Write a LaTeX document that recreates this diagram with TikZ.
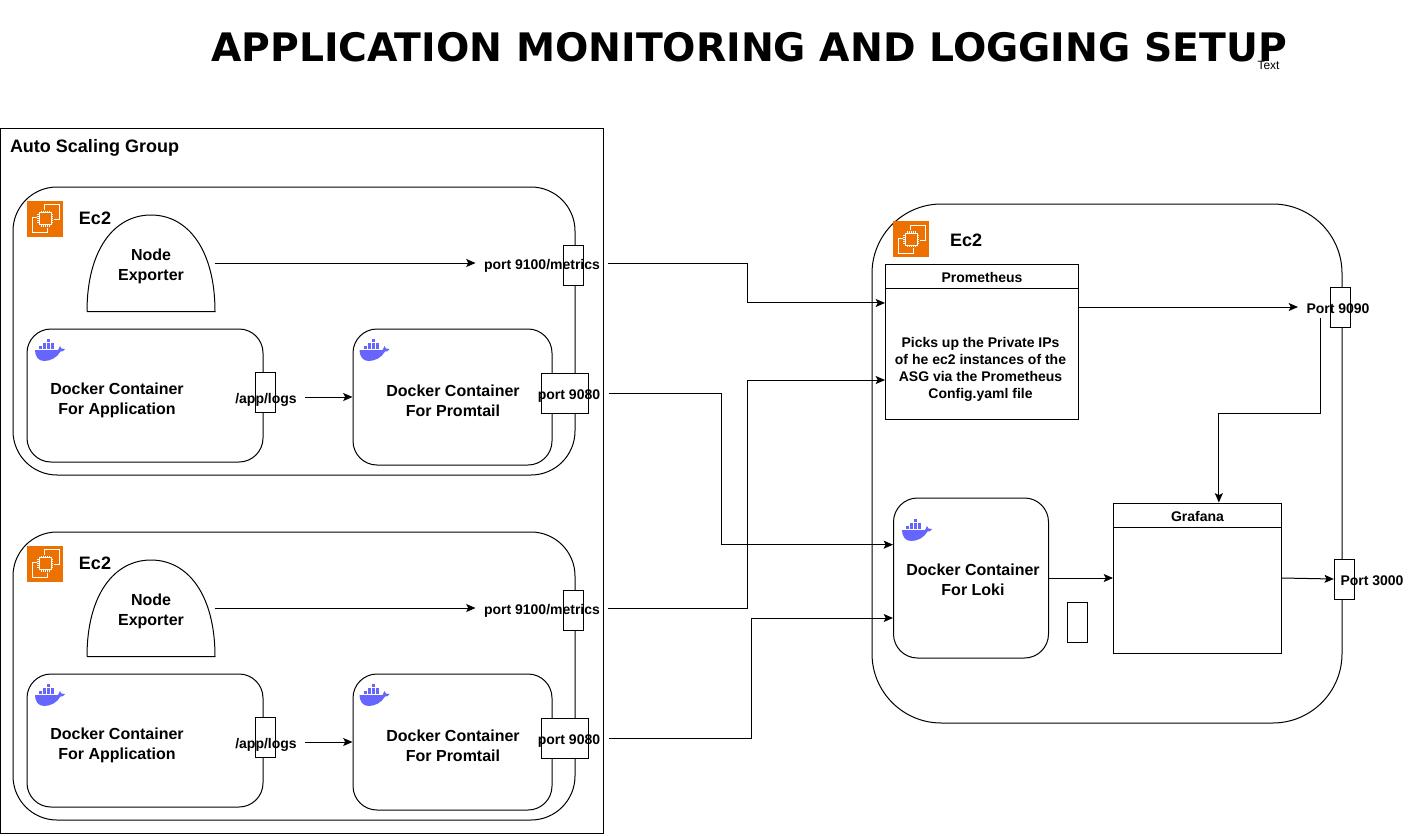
\documentclass[tikz,border=0pt]{standalone}
\usepackage{fontspec}
\setmainfont{Liberation Sans}
\newfontfamily\titlefont{DejaVu Sans}
\usetikzlibrary{arrows.meta}
\definecolor{ec2orange}{HTML}{ED7100}
\definecolor{dockerblue}{HTML}{6666FF}
\begin{document}
\begin{tikzpicture}
[x=0.75pt,y=-0.75pt,line width=0.75pt,%
  boxdecorate/.style={shape=rectangle,draw,fill=white,inner sep=0pt},%
  titledecorate/.style={boxdecorate,anchor=north,minimum height=18pt,text height=9pt,text depth=0pt,font=\bfseries\fontsize{10.5}{12}\selectfont},%
  hostdecorate/.style={boxdecorate,fill=none,rounded corners=33pt},%
  containerdecorate/.style={boxdecorate,fill=none,rounded corners=18pt},%
  portdecorate/.style={boxdecorate,minimum width=15.25pt,minimum height=30pt},%
  labeldecorate/.style={shape=rectangle,inner xsep=6pt,inner ysep=3pt,text height=9pt,text depth=0pt,font=\bfseries\fontsize{10.5}{12.75}\selectfont,align=center},%
  textdecorate/.style={shape=rectangle,inner sep=0pt,font=\bfseries\fontsize{12}{15}\selectfont,align=center},%
  headdecorate/.style={shape=rectangle,inner sep=0pt,font=\bfseries\fontsize{13.5}{16}\selectfont},%
  linedecorate/.style={-{Stealth[length=7pt,width=6pt,inset=1.5pt]}},%
  ec2icon/.pic={
    \fill[ec2orange] (0,0) rectangle (36,36);
    \draw[white,line width=0.6pt] (17,9) -- (17,4) -- (32,4) -- (32,19) -- (27,19);
    \draw[white,line width=0.6pt] (10,17) -- (5,17) -- (5,32) -- (20,32) -- (20,27);
    \draw[white,line width=0.7pt] (12,12) rectangle (24,24);
    \foreach \pin in {14,16,18,20,22} {
      \draw[white,line width=0.4pt] (\pin,10) -- (\pin,12) (\pin,24) -- (\pin,26)
        (10,\pin) -- (12,\pin) (24,\pin) -- (26,\pin);
    }
  },%
  dockericon/.pic={
    \fill[dockerblue] (0,11) -- (23,11) .. controls (23.5,9) .. (25,7) .. controls (26,8) .. (26.5,9.5)
      .. controls (28,9) .. (30,10) .. controls (28,12.5) .. (25.5,12.5)
      .. controls (22,19) and (15,22) .. (9,22) .. controls (3,22) and (0,17) .. (0,11) -- cycle;
    \foreach \bx/\by in {4/7, 8/7, 12/7, 16/7, 8/3.5, 12/3.5, 16/3.5, 12/0} {
      \fill[dockerblue] (\bx,\by) rectangle (\bx+3,\by+3);
    }
  }]
\useasboundingbox (0,0) rectangle (1412,835);
%% title
\node (title) at (749,47) [shape=rectangle,inner sep=0pt,font=\titlefont\bfseries\fontsize{29.45}{36}\selectfont] {APPLICATION MONITORING AND LOGGING SETUP};
\node (textnote) at (1268.5,65) [shape=rectangle,inner sep=0pt,font=\fontsize{9}{11}\selectfont] {Text};
%% auto scaling group
\node (asg) at (301.5,480.5) [boxdecorate,fill=none,minimum width=452.25pt,minimum height=528.75pt] {};
\node (asgtext) at (94.5,147.5) [headdecorate] {Auto Scaling Group};
%% the two ec2 instances of the group
\foreach \grp/\dy in {a/0, b/345} {
\begin{scope}[shift={(0,\dy)}]
  \node (host\grp) at (294,331) [hostdecorate,minimum width=421.5pt,minimum height=216pt] {};
  \pic at (27,200.5) {ec2icon};
  \node (hosttext\grp) at (95,218) [headdecorate] {Ec2};
  \node (nodeexp\grp) at (151,263) [boxdecorate,draw=none,fill=none,minimum width=95.25pt,minimum height=72pt] {};
  \draw (nodeexp\grp.south west) -- (nodeexp\grp.south east)
    .. controls (215,250) and (188,215) .. (151,215)
    .. controls (114,215) and (87,250) .. (nodeexp\grp.south west);
  \node (nodeexptext\grp) at (151,266) [textdecorate] {Node\\Exporter};
  \node (app\grp) at (145,395.5) [containerdecorate,minimum width=177pt,minimum height=99.75pt] {};
  \pic at (35,339) {dockericon};
  \node (apptext\grp) at (117,400) [textdecorate] {Docker Container\\For Application};
  \node (promtail\grp) at (452.5,397) [containerdecorate,minimum width=149.25pt,minimum height=102pt] {};
  \pic at (359.5,339) {dockericon};
  \node (promtailtext\grp) at (453,400.5) [textdecorate] {Docker Container\\For Promtail};
  \node (logsbox\grp) at (265.5,392) [portdecorate] {};
  \node (logs\grp) at (266,397) [labeldecorate] {/app/logs};
  \node (metricsbox\grp) at (573.5,265) [portdecorate] {};
  \node (metrics\grp) at (542,263) [labeldecorate] {port 9100/metrics};
  \node (lokiportbox\grp) at (565,393) [portdecorate,minimum width=35.5pt] {};
  \node (lokiport\grp) at (569,393) [labeldecorate] {port 9080};
  \draw[linedecorate] (metrics\grp.west -| nodeexp\grp.east) -- (metrics\grp.west);
  \draw[linedecorate] (logs\grp.east) -- (logs\grp.east -| promtail\grp.west);
\end{scope}
}
%% the monitoring instance
\node (mainhost) at (1107,463.5) [hostdecorate,rounded corners=52pt,minimum width=352.5pt,minimum height=389.25pt] {};
\pic at (893,221) {ec2icon};
\node (mainhosttext) at (966,240) [headdecorate] {Ec2};
\node (prom) at (982,341.5) [boxdecorate,minimum width=144.75pt,minimum height=116.25pt] {};
\node (promtitle) at (prom.north) [titledecorate,minimum width=144.75pt] {Prometheus};
\node (promtext) at (980.5,369) [textdecorate,font=\bfseries\fontsize{10.5}{12.75}\selectfont] {Picks up the Private IPs\\of he ec2 instances of the\\ASG via the Prometheus\\Config.yaml file};
\node (loki) at (971,578) [containerdecorate,minimum width=116.25pt,minimum height=120pt] {};
\pic at (902,519) {dockericon};
\node (lokitext) at (973,580) [textdecorate] {Docker Container\\For Loki};
\node (grafana) at (1197.5,578) [boxdecorate,minimum width=126pt,minimum height=112.5pt] {};
\node (grafanatitle) at (grafana.north) [titledecorate,minimum width=126pt] {Grafana};
\node (sparebox) at (1077.5,622.5) [portdecorate] {};
\node (promportbox) at (1340.5,307) [portdecorate] {};
\node (promport) at (1338,307) [labeldecorate] {Port 9090};
\node (grafportbox) at (1344.5,579) [portdecorate] {};
\node (grafport) at (1372,579) [labeldecorate] {Port 3000};
\coordinate (prombend) at (1320,413);
%% connectors between the instances
\draw[linedecorate] (metricsa.east) -- ++(139,0) |- ([yshift=28.9pt]prom.west);
\draw[linedecorate] (metricsb.east) -- ++(139,0) |- ([yshift=-28.9pt]prom.west);
\draw[linedecorate] (lokiporta.east) -- ++(113,0) |- ([yshift=25pt]loki.west);
\draw[linedecorate] (lokiportb.east) -- ++(143,0) |- ([yshift=-30pt]loki.west);
%% connectors inside the monitoring instance
\draw[linedecorate] (promport.west -| prom.east) -- (promport.west);
\draw[linedecorate] ([xshift=-13.5pt]promport.south) |- (prombend) -| ([xshift=16pt]grafana.north);
\draw[linedecorate] (loki.east) -- (grafana.west);
\draw[linedecorate] (grafana.east) -- (grafportbox.west);
\end{tikzpicture}
\end{document}
